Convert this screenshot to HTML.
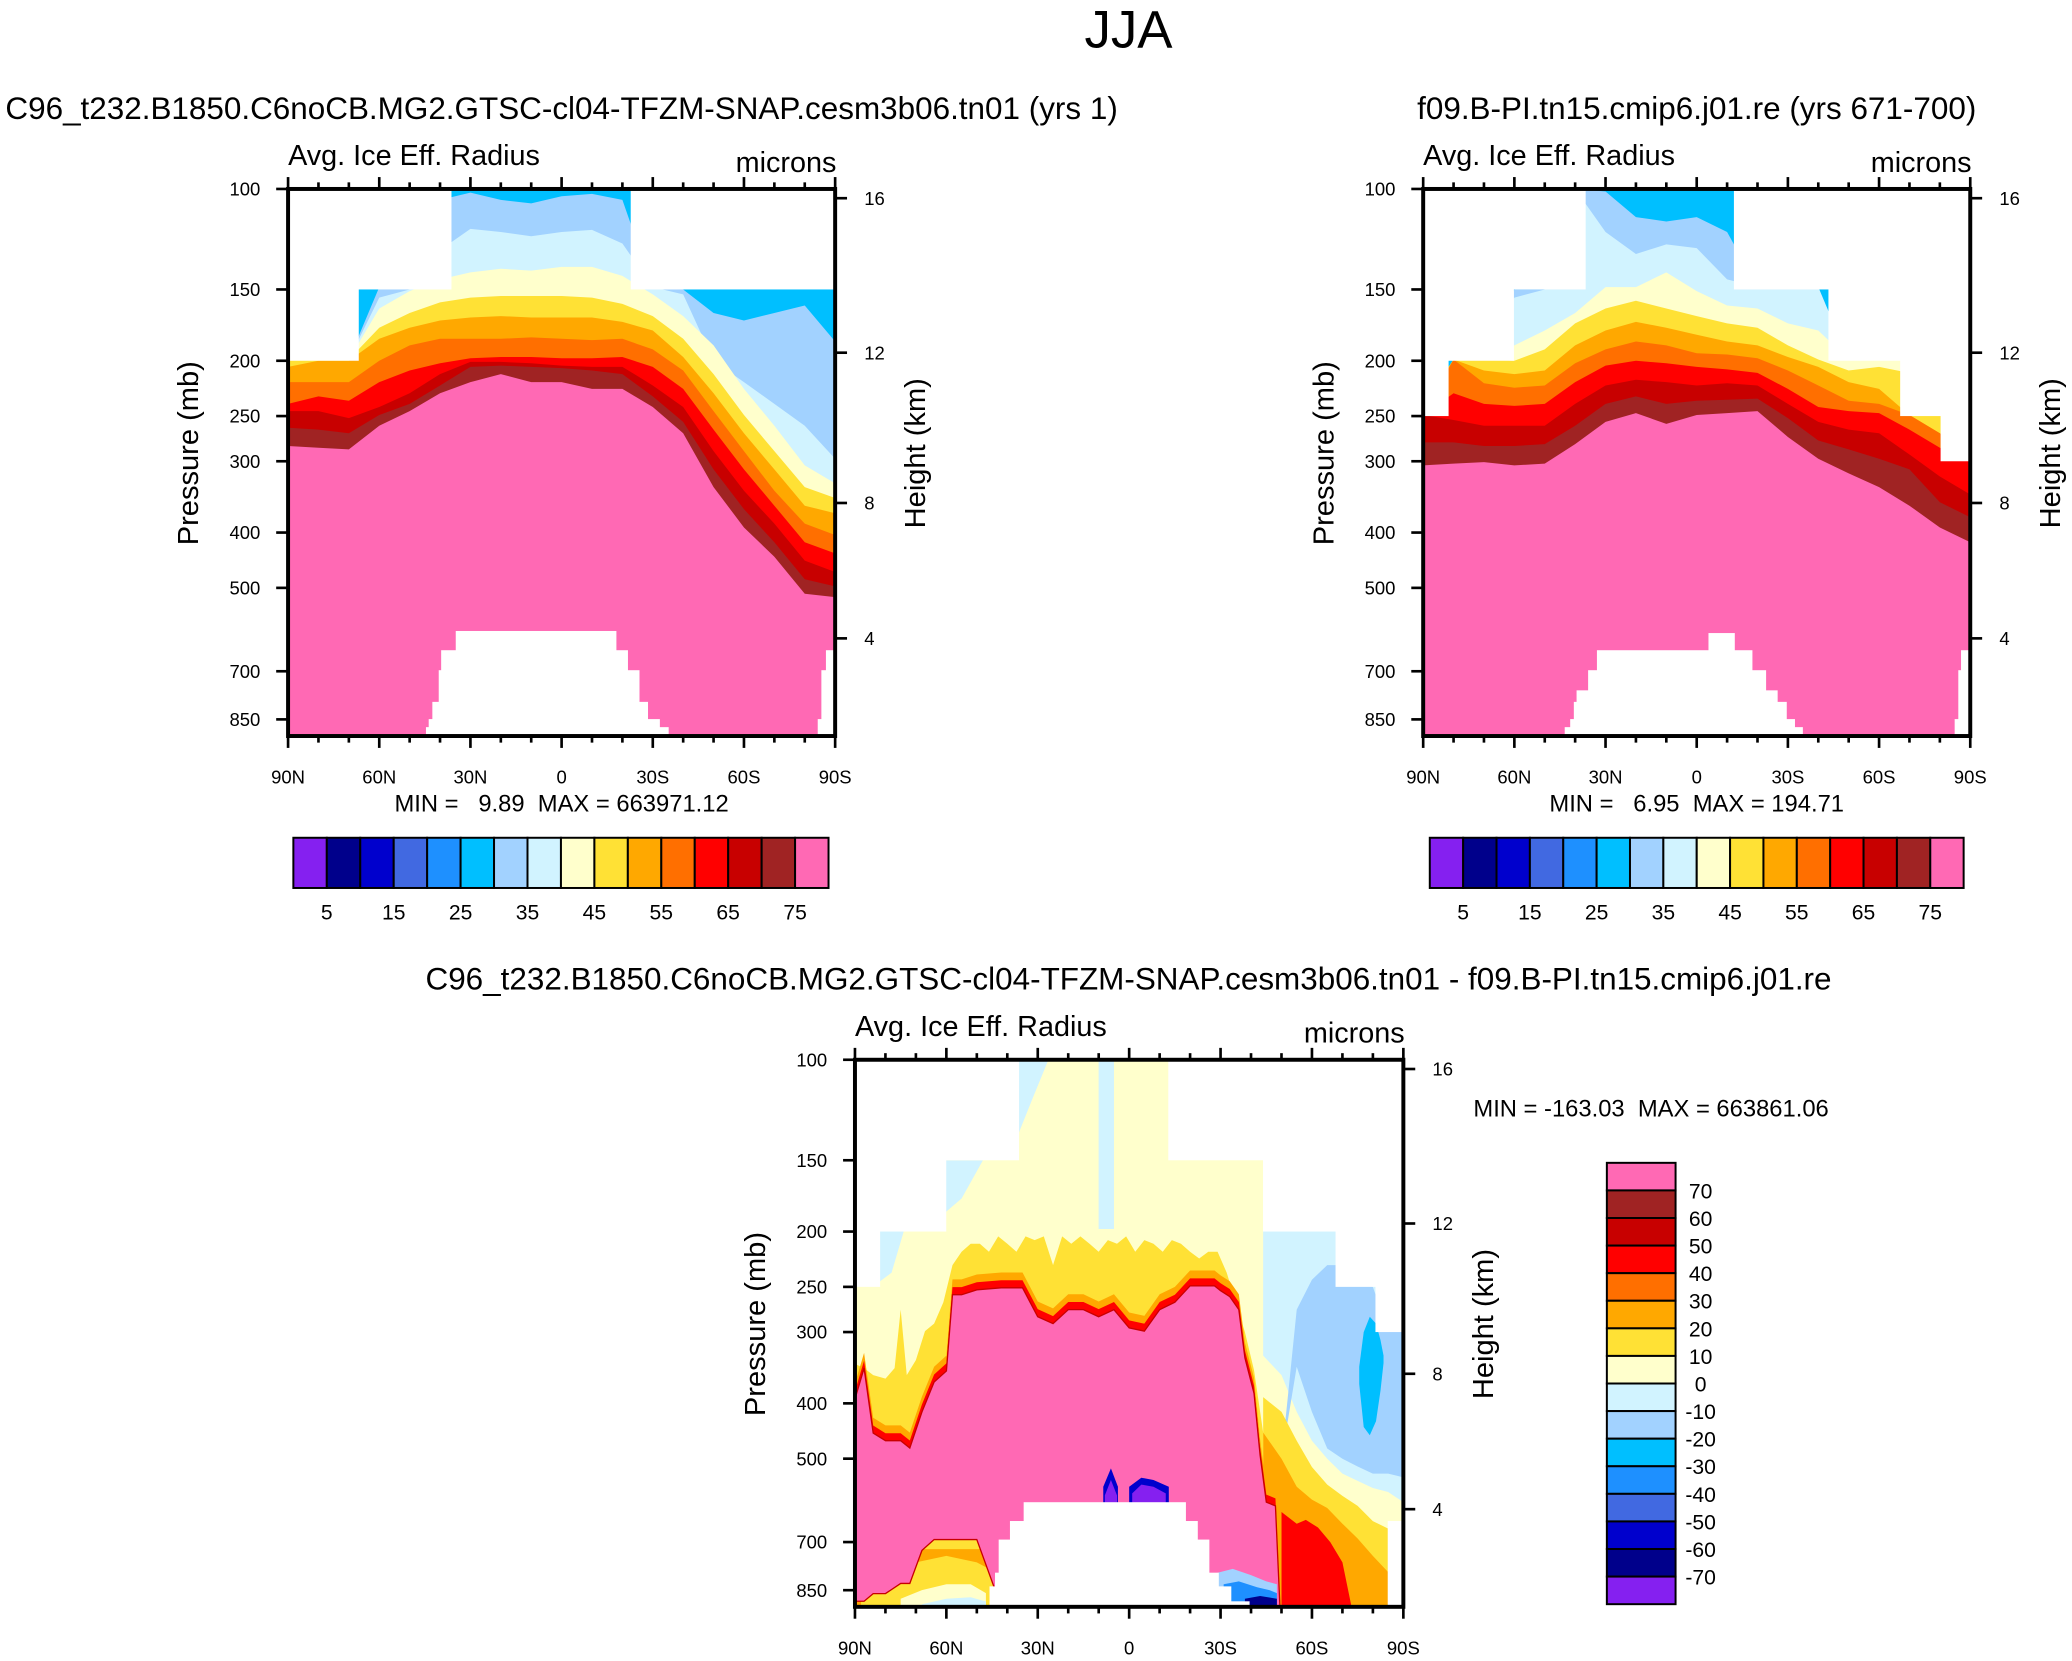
<!DOCTYPE html>
<html><head><meta charset="utf-8"><style>
html,body{margin:0;padding:0;background:#fff;}
svg{display:block;font-family:"Liberation Sans",Arial,sans-serif;}
</style></head><body>
<svg id="fig" width="2072" height="1661" viewBox="0 0 1568 1257" preserveAspectRatio="none" xmlns="http://www.w3.org/2000/svg">
<rect width="1568" height="1257" fill="#fff"/>
<text x="854" y="36" font-size="40" text-anchor="middle">JJA</text>
<text x="425" y="90" font-size="23.8" text-anchor="middle">C96_t232.B1850.C6noCB.MG2.GTSC-cl04-TFZM-SNAP.cesm3b06.tn01 (yrs 1)</text>
<text x="1284" y="90" font-size="23.8" text-anchor="middle">f09.B-PI.tn15.cmip6.j01.re (yrs 671-700)</text>
<text x="854" y="749" font-size="23.8" text-anchor="middle">C96_t232.B1850.C6noCB.MG2.GTSC-cl04-TFZM-SNAP.cesm3b06.tn01 - f09.B-PI.tn15.cmip6.j01.re</text>
<g id="layer"></g>
</svg>
<script>
const NS='http://www.w3.org/2000/svg';
const root=document.getElementById('layer');
const C={purple:'#8520F0',navy:'#00008B',mblue:'#0000CD',royal:'#4169E1',dodger:'#1E90FF',dsky:'#00BFFF',lsky:'#A2D2FF',lcyan:'#D1F3FF',lyellow:'#FFFFCC',gold:'#FFE135',orange:'#FFA800',dorange:'#FF6F00',red:'#FF0000',red3:'#C80000',brown:'#A02323',pink:'#FF69B4'};
const PALETTE=[C.purple,C.navy,C.mblue,C.royal,C.dodger,C.dsky,C.lsky,C.lcyan,C.lyellow,C.gold,C.orange,C.dorange,C.red,C.red3,C.brown,C.pink];

// ---------- data ----------
const LATS=[90,80,70,60,50,40,30,20,10,0,-10,-20,-30,-40,-50,-60,-70,-80,-90];
const PTICKS=[100,150,200,250,300,400,500,700,850];
const HTICKS=[4,8,12,16];
const HTICK_P=[613,355,193.6,103.8];
const LAT_LABELS=['90N','60N','30N','0','30S','60S','90S'];
const LAT_LABEL_VALS=[90,60,30,0,-30,-60,-90];
const CB1_LABELS=[5,15,25,35,45,55,65,75];
const CB3_LABELS=[70,60,50,40,30,20,10,0,-10,-20,-30,-40,-50,-60,-70];

// panel 1 (test case) level boundaries (pressure, hPa) on LATS
const p1LightSky=[199,199,199,148.6,146.5,104.5,101.5,104.5,106,103,102,104.5,148.6,150,165,170,165,160,185];
const p1LightCyan=[199,199,199,155,150,128,117.5,119,121,119,118,124.6,148.6,153,200,218,238,260,297];
const p1LightYellow=[199,199,199,162,151,144,140,138,139,137,137,142,153,167,188,224,260,305,328];
const p1Gold=[199,199,199,175,165,158,155,154,154,154,155,159,167,183,211,249,288,333,348];
const p1Orange=[205,200,200,183,175,170,168,167,168,168,168,171,177,197,228,268,310,359,370];
const p1DOrange=[218,218,218,200,188,183,183,183,182,183,184,183,191,208,245,288,338,386,404];
const p1Red=[238,231,235,218,208,202,198,197,197,198,198,197,205,224,264,310,359,416,435];
const p1Red3=[245,245,252,241,228,211,201,201,202,204,205,205,221,241,288,338,386,448,469];
const p1Brown=[262,264,268,249,238,221,205,204,205,206,208,211,231,256,310,364,416,483,497];
const p1Pink=[282,284,286,260,245,228,218,211,218,218,224,224,241,268,333,392,441,512,519];
const p1TopSegs=[[90,67,200],[67,36.5,150],[36.5,-23,100],[-23,-90,150]];
const p1Mtn=[[34.7,-17.9,595],[39.5,-21.7,643],[40.3,-25.5,697],[42.4,-28.3,792],[43.6,-32.2,849],[44.5,-35.1,877],[46.3,-38.4,906],[-87.1,-90,643],[-85.6,-90,697],[-84.4,-90,849]];

// panel 2 (control)
const p2LightSky=[240,199,199,150,150,100,101,112,114,112,119,148.6,148.6,148.6,199,199,199,240,240];
const p2LightCyan=[240,199,199,155,150,100,119,130,125,127,144,148.6,148.6,148.6,199,199,199,240,240];
const p2LightYellow=[240,199,199,188,177,165,148.6,148.6,140,151,160,162,172,177,199,199,199,240,240];
const p2Gold=[240,199,199,200,191,172,162,157,162,167,172,175,188,199,208,205,210,240,240];
const p2Orange=[240,199,208,211,208,188,177,171,175,180,185,188,197,205,218,224,249,268,298];
const p2DOrange=[249,199,219,223,221,202,191,185,188,194,195,198,208,221,235,238,249,268,298];
const p2Red=[249,228,238,240,238,218,204,200,202,205,207,210,224,241,245,247,264,284,298];
const p2Red3=[249,254,260,260,260,238,221,216,218,221,219,221,238,256,264,268,292,319,343];
const p2Brown=[278,278,282,282,280,260,238,231,238,235,234,233,252,276,286,297,310,354,376];
const p2Pink=[305,303,301,305,303,280,256,247,258,249,247,245,272,297,315,333,359,392,416];
const p2TopSegs=[[90,81.9,250],[81.9,60.4,200],[60.4,36.8,150],[36.8,-12.5,100],[-12.5,-43.6,150],[-43.6,-67.2,200],[-67.2,-80.5,250],[-80.5,-90,300]];
const p2Mtn=[[32.7,-18.2,643],[-4,-12.4,600],[35.6,-22.7,697],[39.4,-26.5,756],[40.3,-29.5,792],[41.5,-32.2,849],[43.3,-34.8,877],[44.1,-37.8,906],[-87.1,-90,643],[-86.2,-90,697],[-85,-90,849]];

// panel 3 (difference)
const p3PinkLat=[90,87,84,80,75,72,68,64,60,58,55,50,42,35,30,25,20,15,10,5,0,-5,-10,-15,-20,-25,-28,-30,-33,-36,-38,-41,-43,-45,-48,-49.5];
const p3PinkTop=[393,347,451,465,465,479,414,367,351,258,258,253,251,251,282,290,274,274,282,274,295,299,274,266,249,249,249,254,260,274,333,384,493,596,605,909];
const p3PinkBot=[889,889,862,862,827,827,724,693,693,693,693,693,909,909,909,909,909,909,909,909,909,909,909,909,909,909,909,909,909,909,909,909,909,909,909,909];
const p3FringeLat=[90,87,84,80,77,75,73,70,67,64,61,58,55,52,49,46,43,40,37,34,31,28,25,22,19,16,13,10,7,4,1,-2,-5,-8,-11,-14,-17,-20,-23,-26,-29,-32,-35,-38,-41,-44];
const p3GoldTop=[341,347,357,362,347,274,357,336,299,290,266,229,217,210,210,217,204,210,217,204,207,204,229,204,210,204,210,217,207,210,204,217,207,210,217,207,210,217,223,217,217,236,266,300,350,450];
const p3ShLat=[-44,-50,-55,-60,-65,-70,-75,-80,-85,-90];
const p3LcyanBot=[330,357,414,465,500,531,547,563,572,596];
const p3LskyTop=[500,500,274,243,229,229,247,250,298,298];
const p3LskyBot=[500,500,345,414,480,500,516,531,531,539];
const p3GoldSh=[390,414,465,517,555,581,605,643,663,693];
const p3OrangeSh=[450,500,560,590,610,650,690,740,790,860];
const p3RedLat=[-50,-55,-58,-62,-66,-70,-73];
const p3RedTop=[620,650,640,660,700,760,909];
const p3BlobLat=[-75.5,-77,-79,-81,-82.5,-83.5];
const p3BlobTop=[345,300,282,290,310,330];
const p3BlobBot=[370,440,455,430,380,340];
const p3TopSegs=[[90,82,250],[82,60.3,200],[60.3,36.4,150],[36.4,-13.1,100],[-13.1,-44.2,150],[-44.2,-68,200],[-68,-81.1,250],[-81.1,-90,300]];
const p3Mtn=[[34.5,-18.5,596],[39,-22.4,643],[42.7,-26.2,693],[43.9,-29.3,792],[45.7,-33.4,837],[45.7,-39.4,889],[-85,-90,643]];

// ---------- helpers ----------
function el(tag,attrs,parent){const e=document.createElementNS(NS,tag);for(const k in attrs)e.setAttribute(k,attrs[k]);(parent||root).appendChild(e);return e;}
function txt(s,attrs,parent){const e=el('text',attrs,parent);e.textContent=s;return e;}
const PBOT=909;
function axes(x0,y0,W,H){return {x:lat=>x0+(90-lat)/180*W, y:p=>y0+H*Math.log(p/100)/Math.log(PBOT/100)};}
function band(g,A,lats,top,bot,color){
  const pts=[];
  lats.forEach((l,i)=>pts.push(A.x(l).toFixed(1)+','+A.y(top[i]).toFixed(1)));
  for(let i=lats.length-1;i>=0;i--){const b=Array.isArray(bot)?bot[i]:bot;pts.push(A.x(lats[i]).toFixed(1)+','+A.y(b).toFixed(1));}
  const e=el('polygon',{points:pts.join(' '),fill:color},g);
  
  
  return e;
}
function mask(g,A,topSegs,mtn,x0,y0,W,H){
  topSegs.forEach(s=>{const xa=A.x(s[0]),xb=A.x(s[1]);const e=el('rect',{x:xa-0.6,y:y0-1,width:xb-xa+1.2,height:A.y(s[2])-y0+1,fill:'#fff'},g);
    });
  mtn.forEach(s=>{const xa=A.x(s[0]),xb=A.x(s[1]);const e=el('rect',{x:xa-0.3,y:A.y(s[2]),width:xb-xa+0.6,height:y0+H-A.y(s[2])+1,fill:'#fff'},g);
    });
}
function frame(id,x0,y0,W,H,A){
  const g=el('g',{});
  
  
  el('rect',{x:x0,y:y0,width:W,height:H,fill:'none',stroke:'#000','stroke-width':3},g);
  PTICKS.forEach(p=>{const y=A.y(p);el('line',{x1:x0-9,y1:y,x2:x0,y2:y,stroke:'#000','stroke-width':2},g);
    const t=txt(String(p),{x:x0-21,y:y+5,'font-size':14,'text-anchor':'end'},g);
    });
  HTICKS.forEach((h,i)=>{const y=A.y(HTICK_P[i]);el('line',{x1:x0+W,y1:y,x2:x0+W+9,y2:y,stroke:'#000','stroke-width':2},g);
    const t=txt(String(h),{x:x0+W+22,y:y+5,'font-size':14},g);
    });
  for(let lat=90;lat>=-90;lat-=10){const x=A.x(lat);const L=(lat%30===0)?9:5;
    el('line',{x1:x,y1:y0,x2:x,y2:y0-L,stroke:'#000','stroke-width':2},g);
    el('line',{x1:x,y1:y0+H,x2:x,y2:y0+H+L,stroke:'#000','stroke-width':2},g);}
  LAT_LABELS.forEach((s,i)=>{const t=txt(s,{x:A.x(LAT_LABEL_VALS[i]),y:y0+H+36,'font-size':14,'text-anchor':'middle'},g);
    });
  let t=txt('Avg. Ice Eff. Radius',{x:x0,y:y0-18,'font-size':21.8},g);
  
  t=txt('microns',{x:x0+W+1,y:y0-13,'font-size':21.8,'text-anchor':'end'},g);
  
  t=txt('Pressure (mb)',{x:0,y:0,'font-size':22,'text-anchor':'middle',transform:`translate(${x0-68},${y0+H/2-7}) rotate(-90)`},g);
  
  t=txt('Height (km)',{x:0,y:0,'font-size':22,'text-anchor':'middle',transform:`translate(${x0+W+68},${y0+H/2-7}) rotate(-90)`},g);
  
}
function panelGroup(id,x0,y0,W,H){
  const cp=el('clipPath',{id:'clip-'+id});el('rect',{x:x0,y:y0,width:W,height:H},cp);
  const g=el('g',{'clip-path':`url(#clip-${id})`});
  
  
  return g;
}
function hColorbar(id,x0,y0,w,h){
  const g=el('g',{});
  
  
  const bw=w/PALETTE.length;
  PALETTE.forEach((c,i)=>{const r=el('rect',{x:x0+i*bw,y:y0,width:bw,height:h,fill:c,stroke:'#000','stroke-width':1.5},g);
    });
  CB1_LABELS.forEach((v,i)=>{const t=txt(String(v),{x:x0+(2*i+1)*bw,y:y0+h+24,'font-size':16,'text-anchor':'middle'},g);
    });
}

function drawStack(id,x0,y0,W,H,layers){
  const A=axes(x0,y0,W,H);
  const g=panelGroup(id,x0,y0,W,H);
  const r=el('rect',{x:x0,y:y0,width:W,height:H,fill:C.dsky},g);
  
  layers.forEach(L=>band(g,A,LATS,L[0],PBOT,L[1]));
  return {A,g};
}
let P=drawStack('panel1',218,143,414,414,[[p1LightSky,C.lsky],[p1LightCyan,C.lcyan],[p1LightYellow,C.lyellow],[p1Gold,C.gold],[p1Orange,C.orange],[p1DOrange,C.dorange],[p1Red,C.red],[p1Red3,C.red3],[p1Brown,C.brown],[p1Pink,C.pink]]);
mask(P.g,P.A,p1TopSegs,p1Mtn,218,143,414,414);
frame('panel1',218,143,414,414,P.A);
P=drawStack('panel2',1077,143,414,414,[[p2LightSky,C.lsky],[p2LightCyan,C.lcyan],[p2LightYellow,C.lyellow],[p2Gold,C.gold],[p2Orange,C.orange],[p2DOrange,C.dorange],[p2Red,C.red],[p2Red3,C.red3],[p2Brown,C.brown],[p2Pink,C.pink]]);
mask(P.g,P.A,p2TopSegs,p2Mtn,1077,143,414,414);
frame('panel2',1077,143,414,414,P.A);

// ---------- panel 3 ----------
(function(){
  const x0=647,y0=802,W=415,H=414;const A=axes(x0,y0,W,H);
  const g=panelGroup('panel3',x0,y0,W,H);
  const r=el('rect',{x:x0,y:y0,width:W,height:H,fill:C.lyellow},g);
  
  band(g,A,[36.4,32,26.5],[100,100,100],[135,118,100],C.lcyan);
  band(g,A,[10,7,5],[100,100,100],[198,198,198],C.lcyan);
  band(g,A,[82,78,74],[200,200,200],[245,236,200],C.lcyan);
  band(g,A,[60.3,55,48],[150,150,150],[185,175,150],C.lcyan);
  band(g,A,p3ShLat,p3ShLat.map(()=>100),p3LcyanBot,C.lcyan);
  band(g,A,p3ShLat,p3LskyTop,p3LskyBot,C.lsky);
  band(g,A,p3BlobLat,p3BlobTop,p3BlobBot,C.dsky);
  band(g,A,p3ShLat,p3GoldSh,PBOT,C.gold);
  band(g,A,p3ShLat,p3OrangeSh,PBOT,C.orange);
  band(g,A,p3RedLat,p3RedTop,PBOT,C.red);
  band(g,A,p3FringeLat,p3GoldTop,PBOT,C.gold);
  band(g,A,p3PinkLat,p3PinkTop.map(v=>v*0.94),p3PinkBot,C.orange);
  band(g,A,p3PinkLat,p3PinkTop.map(v=>v*0.97),p3PinkBot,C.red);
  band(g,A,[90,75,60,45],[720,720,720,720],[909,909,909,909],C.orange);
  band(g,A,[88,80,70,60,50,44],[860,800,760,740,760,790],[909,909,909,909,909,909],C.gold);
  band(g,A,[75,68,60,52,47],[880,850,830,830,860],[909,909,909,909,909],C.lyellow);
  band(g,A,[68,60,52,47],[900,880,875,890],[909,909,909,909],C.lcyan);
  const pk=band(g,A,p3PinkLat,p3PinkTop,p3PinkBot,C.pink);
  pk.setAttribute('stroke',C.red3);pk.setAttribute('stroke-width','1');
  band(g,A,[-29,-34,-40,-45,-48.5],[792,780,800,820,830],[909,909,909,909,909],C.lsky);
  band(g,A,[-31,-36,-42,-46,-48.5],[830,820,840,850,860],[909,909,909,909,909],C.dodger);
  band(g,A,[-38,-43,-48.5],[880,870,880],[909,909,909],C.navy);
  band(g,A,[8.5,6,3.7],[560,520,560],[600,600,600],C.mblue);
  band(g,A,[8,6,4],[580,545,580],[600,600,600],C.purple);
  band(g,A,[0,-4,-8,-13],[560,540,545,560],[600,600,600,600],C.mblue);
  band(g,A,[-1,-4,-8,-12],[575,555,560,575],[600,600,600,600],C.purple);
  mask(g,A,p3TopSegs,p3Mtn,x0,y0,W,H);
  frame('panel3',x0,y0,W,H,A);
  const cb=el('g',{});
  
  
  const bx=1216,by=880,bw=52,bh=334/16;
  PALETTE.slice().reverse().forEach((c,i)=>{const rr=el('rect',{x:bx,y:by+i*bh,width:bw,height:bh,fill:c,stroke:'#000','stroke-width':1.5},cb);
    });
  CB3_LABELS.forEach((v,i)=>{const t=txt(String(v),{x:1287,y:by+(i+1)*bh+6,'font-size':16,'text-anchor':'middle'},cb);
    });
})();

hColorbar('panel1',222,634,405,38);
hColorbar('panel2',1082,634,404,38);
let t=txt('MIN =   9.89  MAX = 663971.12',{x:425,y:614,'font-size':18,'text-anchor':'middle',style:'white-space:pre'});

t=txt('MIN =   6.95  MAX = 194.71',{x:1284,y:614,'font-size':18,'text-anchor':'middle',style:'white-space:pre'});

t=txt('MIN = -163.03  MAX = 663861.06',{x:1115,y:845,'font-size':18,style:'white-space:pre'});

</script>
</body></html>
